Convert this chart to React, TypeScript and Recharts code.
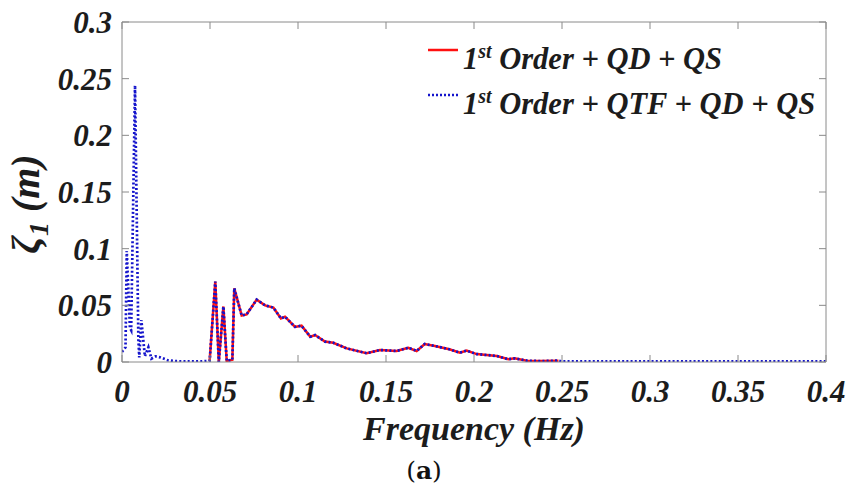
import { LineChart, Line, XAxis, YAxis } from "recharts";

// frequency samples (Hz)
const freq = [
  0, 0.002, 0.0027, 0.0045, 0.0052, 0.0074, 0.0093, 0.0098, 0.011, 0.013,
  0.015, 0.0167, 0.019, 0.022, 0.026, 0.03, 0.035, 0.04, 0.045, 0.0498,
  0.053, 0.055, 0.0576, 0.0595, 0.0627, 0.0638, 0.068, 0.0708, 0.0765, 0.0813,
  0.086, 0.0903, 0.0926, 0.0983, 0.102, 0.107, 0.1097, 0.1153, 0.12, 0.1277,
  0.139, 0.1466, 0.156, 0.1627, 0.1674, 0.172, 0.1778, 0.186, 0.192, 0.1958,
  0.2015, 0.213, 0.2195, 0.223, 0.23, 0.2375, 0.248, 0.25, 0.3, 0.35, 0.4,
];

// 1st Order + QTF + QD + QS (blue dotted)
const qtfVals = [
  0.009, 0.013, 0.098, 0.03, 0.028, 0.244, 0.02, 0.004, 0.037, 0.005,
  0.013, 0.003, 0.005, 0.004, 0.0015, 0.0008, 0.0005, 0.0005, 0.0005, 0.001,
  0.071, 0.0, 0.049, 0.001, 0.002, 0.065, 0.041, 0.042, 0.055, 0.05,
  0.048, 0.0385, 0.04, 0.031, 0.032, 0.0223, 0.0238, 0.018, 0.017, 0.012,
  0.0077, 0.0106, 0.0097, 0.0126, 0.0097, 0.0159, 0.0141, 0.0112, 0.0082, 0.01,
  0.007, 0.0053, 0.0024, 0.0032, 0.0012, 0.0008, 0.0012, 0.0005, 0.0005, 0.0005, 0.0005,
];

// 1st Order + QD + QS (red solid)
const qdVals = [
  null, null, null, null, null, null, null, null, null, null,
  null, null, null, null, null, null, null, null, null, 0.001,
  0.071, 0.0, 0.049, 0.001, 0.002, 0.065, 0.041, 0.042, 0.055, 0.05,
  0.048, 0.0385, 0.04, 0.031, 0.032, 0.0223, 0.0238, 0.018, 0.017, 0.012,
  0.0077, 0.0106, 0.0097, 0.0126, 0.0097, 0.0159, 0.0141, 0.0112, 0.0082, 0.01,
  0.007, 0.0053, 0.0024, 0.0032, 0.0012, 0.0008, 0.0012, null, null, null, null,
];

const xTicks = [0, 0.05, 0.1, 0.15, 0.2, 0.25, 0.3, 0.35, 0.4];
const yTicks = [0, 0.05, 0.1, 0.15, 0.2, 0.25, 0.3];

const data = freq.map((f, i) => ({ f, qd: qdVals[i], qtf: qtfVals[i] }));

const FONT = "Liberation Serif, Times New Roman, serif";
const AXIS = "#8a8a8a";
const TXT = "#1c1c1c";

const tickStyle = {
  fill: TXT,
  fontSize: 31,
  fontFamily: FONT,
  fontWeight: "bold",
  fontStyle: "italic",
};

function XLabel(props: any) {
  const vb = props.viewBox || { x: 122, y: 362, width: 704 };
  return (
    <g>
      <text
        x={vb.x + vb.width / 2}
        y={vb.y + 78}
        textAnchor="middle"
        fill={TXT}
        fontFamily={FONT}
        fontWeight="bold"
        fontStyle="italic"
        fontSize={34}
      >
        Frequency (Hz)
      </text>
      <text
        x={424}
        y={vb.y + 117}
        textAnchor="middle"
        fill="#111"
        fontFamily="DejaVu Serif, serif"
        fontSize={25}
      >
        (<tspan fontWeight="bold">a</tspan>)
      </text>
    </g>
  );
}

function YLabel(props: any) {
  const vb = props.viewBox || { x: 22, y: 22, width: 100, height: 340 };
  const cx = vb.x + 17;
  const cy = vb.y + vb.height / 2 + 12;
  return (
    <text
      x={cx}
      y={cy}
      transform={`rotate(-90, ${cx}, ${cy})`}
      textAnchor="middle"
      fill={TXT}
      fontFamily={FONT}
      fontWeight="bold"
      fontStyle="italic"
      fontSize={40}
    >
      ζ
      <tspan dy={9} fontSize={28}>
        1
      </tspan>
      <tspan dy={-9}> (m)</tspan>
    </text>
  );
}

function LegendRow({ color, dash, label }: { color: string; dash?: string; label: string }) {
  return (
    <div style={{ display: "flex", alignItems: "center", height: 45 }}>
      <svg width={32} height={10} style={{ marginTop: -12, marginRight: 4 }}>
        <line x1={1} y1={5} x2={31} y2={5} stroke={color} strokeWidth={2.5} strokeDasharray={dash} />
      </svg>
      <span>
        1<sup style={{ fontSize: 20 }}>st</sup> {label}
      </span>
    </div>
  );
}

export default function App() {
  return (
    <div style={{ position: "absolute", left: 0, top: 0, width: 848, height: 487, background: "#fff" }}>
      <LineChart
        width={848}
        height={487}
        data={data}
        margin={{ top: 22, right: 22, bottom: 65, left: 22 }}
      >
        <XAxis
          dataKey="f"
          type="number"
          domain={[0, 0.4]}
          ticks={xTicks}
          allowDataOverflow
          height={60}
          tickSize={0}
          tickMargin={18}
          tickLine={false}
          axisLine={{ stroke: AXIS }}
          tick={tickStyle}
          tickFormatter={(v) => String(v)}
          label={<XLabel />}
        />
        <XAxis
          xAxisId="bottomTicks"
          dataKey="f"
          type="number"
          domain={[0, 0.4]}
          ticks={xTicks}
          allowDataOverflow
          mirror
          tickSize={7}
          axisLine={false}
          tickLine={{ stroke: AXIS }}
          tickFormatter={() => ""}
        />
        <XAxis
          xAxisId="top"
          orientation="top"
          dataKey="f"
          type="number"
          domain={[0, 0.4]}
          ticks={xTicks}
          allowDataOverflow
          mirror
          tickSize={7}
          axisLine={{ stroke: AXIS }}
          tickLine={{ stroke: AXIS }}
          tickFormatter={() => ""}
        />
        <YAxis
          type="number"
          domain={[0, 0.3]}
          ticks={yTicks}
          allowDataOverflow
          width={100}
          tickSize={0}
          tickMargin={10}
          tickLine={false}
          axisLine={{ stroke: AXIS }}
          tick={tickStyle}
          tickFormatter={(v) => String(v)}
          label={<YLabel />}
        />
        <YAxis
          yAxisId="leftTicks"
          type="number"
          domain={[0, 0.3]}
          ticks={yTicks}
          allowDataOverflow
          mirror
          tickSize={7}
          axisLine={false}
          tickLine={{ stroke: AXIS }}
          tickFormatter={() => ""}
        />
        <YAxis
          yAxisId="right"
          orientation="right"
          type="number"
          domain={[0, 0.3]}
          ticks={yTicks}
          allowDataOverflow
          mirror
          tickSize={7}
          axisLine={{ stroke: AXIS }}
          tickLine={{ stroke: AXIS }}
          tickFormatter={() => ""}
        />
        <Line
          type="linear"
          dataKey="qd"
          stroke="#ff1010"
          strokeWidth={2.5}
          dot={false}
          isAnimationActive={false}
        />
        <Line
          type="linear"
          dataKey="qtf"
          stroke="#1414cc"
          strokeWidth={2.7}
          strokeDasharray="2 2.2"
          dot={false}
          isAnimationActive={false}
        />
      </LineChart>
      <div
        style={{
          position: "absolute",
          left: 427,
          top: 33,
          fontFamily: FONT,
          fontWeight: "bold",
          fontStyle: "italic",
          fontSize: 30.5,
          color: TXT,
          lineHeight: "30px",
          whiteSpace: "nowrap",
        }}
      >
        <LegendRow color="#ff1010" label="Order + QD + QS" />
        <LegendRow color="#1414cc" dash="2 2" label="Order + QTF + QD + QS" />
      </div>
    </div>
  );
}
